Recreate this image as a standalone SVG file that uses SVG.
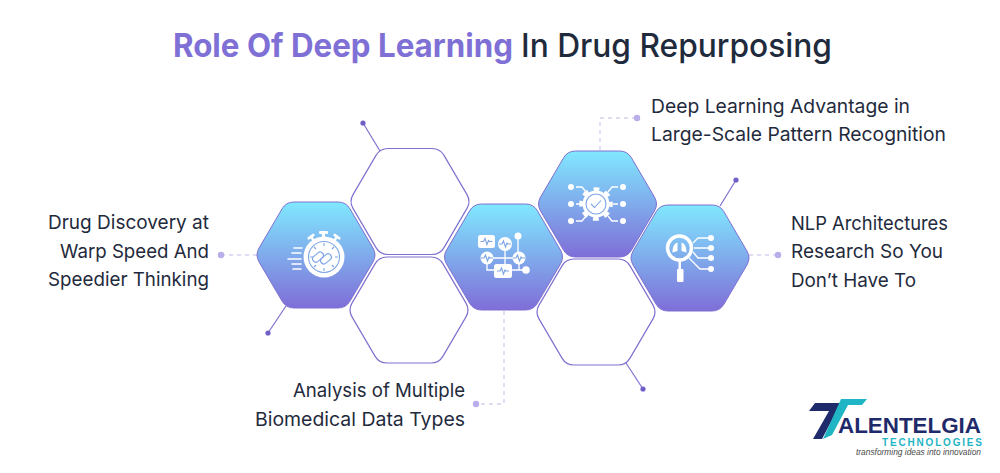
<svg xmlns="http://www.w3.org/2000/svg" width="1000" height="473" viewBox="0 0 1000 473">
<style>
text{font-family:"Inter","Noto Sans","Liberation Sans",sans-serif}
.t{font-size:32px;font-weight:500;fill:#1f2b3d}
.tb{font-size:32px;font-weight:700;fill:#7f70d6}
.l{font-size:19px;font-weight:400;fill:#1f2b3d}
.hf{fill:url(#g);stroke:#7f70d0;stroke-width:1}
.he{fill:#fff;stroke:#7f70d0;stroke-width:1.2}
.dash{fill:none;stroke:#d6d0f0;stroke-width:1.4;stroke-dasharray:4 4}
.sol{fill:none;stroke:#7f70d0;stroke-width:1.2}
.dl{fill:#b9aeea}
.dd{fill:#6f5fc8}
.w{fill:#fff}
.wl{fill:none;stroke:#fff;stroke-width:1.3}
.wt{fill:none;stroke:#fff;stroke-width:1.6;stroke-linecap:round}
.b{fill:none;stroke:#7ea6e6;stroke-width:1.1}
</style>
<defs>
<linearGradient id="g" x1="0" y1="0" x2="0" y2="1">
<stop offset="0" stop-color="#80e8ff"/>
<stop offset="1" stop-color="#7f6ed8"/>
</linearGradient>
<path id="hex" d="M-57-6.900L-34-46.100Q-30-53-22-53L22-53Q30-53 34-46.100L57-6.900Q61 0 57 6.900L34 46.100Q30 53 22 53L-22 53Q-30 53-34 46.100L-57 6.900Q-61 0-57-6.900Z"/>
<polyline id="wave" points="-6,0 -3,0 -1.500,-3 0.500,3 2,-1 3,0 6,0"/>
</defs>

<rect width="1000" height="473" fill="#fff"/>

<g id="title">
<text class="tb" x="173" y="57" textLength="340" lengthAdjust="spacingAndGlyphs">Role Of Deep Learning</text>
<text class="t" x="521" y="57" textLength="311" lengthAdjust="spacingAndGlyphs">In Drug Repurposing</text>
</g>

<g id="connectors">
<path class="dash" d="M257 255H221"/>
<path class="dash" d="M600 150V118H637"/>
<path class="dash" d="M749 255H778"/>
<path class="dash" d="M504 311V404H476"/>
<path class="sol" d="M380 151L363 123"/>
<path class="sol" d="M286 306L268 333"/>
<path class="sol" d="M720 206L736 180"/>
<path class="sol" d="M626 363L643 389"/>
<circle class="dl" cx="221" cy="255" r="3.200"/>
<circle class="dl" cx="637" cy="118" r="3.200"/>
<circle class="dl" cx="778" cy="255" r="3.200"/>
<circle class="dl" cx="476" cy="404" r="3.200"/>
<circle class="dd" cx="363" cy="123" r="2.600"/>
<circle class="dd" cx="268" cy="333" r="2.600"/>
<circle class="dd" cx="736" cy="180" r="2.600"/>
<circle class="dd" cx="643" cy="389" r="2.600"/>
</g>

<g id="hex-top-left"><use href="#hex" class="he" x="410" y="201.500"/></g>
<g id="hex-bottom-left"><use href="#hex" class="he" x="409" y="310"/></g>
<g id="hex-bottom-right"><use href="#hex" class="he" x="596" y="312"/></g>

<g id="node-stopwatch">
<use href="#hex" class="hf" x="316" y="255"/>
<circle class="w" cx="324" cy="257" r="20.500"/>
<circle class="b" cx="324" cy="257" r="15.500"/>
<path class="b" d="M324 243V246M324 268V271M310 257H313M335 257H338M314 247L316 249M334 247L332 249M314 267L316 265M334 267L332 265"/>
<g fill="none" stroke="#7ea6e6" stroke-width="1.200" transform="rotate(-40 322 258)">
<rect x="313.500" y="251.500" width="12" height="6.500" rx="3.250"/>
<rect x="318.500" y="258" width="12" height="6.500" rx="3.250"/>
</g>
<rect class="w" x="319" y="231" width="9" height="3" rx="1"/><rect class="w" x="322" y="233" width="3" height="5"/>
<g transform="rotate(-35 312 238)"><rect class="w" x="308" y="235" width="8" height="2.600" rx="1"/><rect class="w" x="310.800" y="236" width="2.400" height="5"/></g>
<g transform="rotate(35 336 238)"><rect class="w" x="332" y="235" width="8" height="2.600" rx="1"/><rect class="w" x="334.800" y="236" width="2.400" height="5"/></g>
<path class="wt" d="M294 248H302M292 253H301M288 259H301M292 264H301M293 269H301"/>
</g>

<g id="node-datatypes">
<use href="#hex" class="hf" x="503.500" y="257"/>
<path class="wl" d="M487 258H519M505 244V264M518 236V252M487 264V270H494M512 270H526M519 264V270"/>
<rect class="w" x="478" y="235" width="17" height="13" rx="2.500"/>
<rect class="w" x="494" y="264" width="18" height="14" rx="2.500"/>
<circle class="w" cx="505" cy="244" r="7"/>
<circle class="w" cx="518" cy="236" r="3.500"/>
<circle class="w" cx="487" cy="258" r="6.500"/>
<circle class="w" cx="519" cy="258" r="6.500"/>
<circle class="w" cx="526" cy="270" r="3.800"/>
<g class="b">
<use href="#wave" x="486.500" y="241.500"/>
<use href="#wave" x="505" y="244"/>
<use href="#wave" x="487" y="258"/>
<use href="#wave" x="519" y="258"/>
<use href="#wave" x="503" y="271"/>
</g>
</g>

<g id="node-gear">
<use href="#hex" class="hf" x="597.500" y="204"/>
<circle class="w" cx="596" cy="204" r="13.500"/>
<circle cx="596" cy="204" r="14.500" fill="none" stroke="#fff" stroke-width="4.500" stroke-dasharray="5.700 5.690" stroke-dashoffset="2.850"/>
<circle class="b" cx="596" cy="204" r="10"/>
<path class="b" d="M591 204L594.500 207.500L601 200.500"/>
<g class="w">
<circle cx="571" cy="187" r="3"/><circle cx="571" cy="204" r="3"/><circle cx="571" cy="221" r="3"/>
<circle cx="623" cy="187" r="3"/><circle cx="623" cy="204" r="3"/><circle cx="623" cy="221" r="3"/>
</g>
<path class="wl" d="M576 187H582L586 192M576 221H582L586 216M576 204H580M618 204H613M618 187H612L608 192M618 221H612L608 216" stroke-width="1.600"/>
</g>

<g id="node-nlp">
<use href="#hex" class="hf" x="690" y="258"/>
<circle cx="679.500" cy="248" r="12" fill="none" stroke="#fff" stroke-width="3.500"/>
<path class="w" d="M677.500 242.500C674 243 672.500 248 672.500 252.500L677.500 251ZM681.500 242.500C685 243 686.500 248 686.500 252.500L681.500 251Z"/>
<rect class="w" x="678.500" y="261" width="2.500" height="8"/>
<rect class="w" x="677" y="269" width="6.500" height="13" rx="1"/>
<g class="w">
<circle cx="711" cy="238" r="3"/><circle cx="711" cy="248" r="3"/><circle cx="711" cy="258" r="3"/><circle cx="711" cy="269" r="3"/>
</g>
<path class="wl" d="M711 238H698L693 243M711 248H694M711 258H698L693 252M711 269H700L689 258"/>
</g>

<g id="label-left">
<text class="l" x="209" y="229" text-anchor="end" textLength="161" lengthAdjust="spacingAndGlyphs">Drug Discovery at</text>
<text class="l" x="209" y="258" text-anchor="end" textLength="149" lengthAdjust="spacingAndGlyphs">Warp Speed And</text>
<text class="l" x="209" y="286" text-anchor="end" textLength="161" lengthAdjust="spacingAndGlyphs">Speedier Thinking</text>
</g>
<g id="label-top">
<text class="l" x="651" y="113" textLength="259" lengthAdjust="spacingAndGlyphs">Deep Learning Advantage in</text>
<text class="l" x="651" y="141" textLength="295" lengthAdjust="spacingAndGlyphs">Large-Scale Pattern Recognition</text>
</g>
<g id="label-right">
<text class="l" x="791" y="230" textLength="157" lengthAdjust="spacingAndGlyphs">NLP Architectures</text>
<text class="l" x="791" y="258" textLength="152" lengthAdjust="spacingAndGlyphs">Research So You</text>
<text class="l" x="791" y="287" textLength="125" lengthAdjust="spacingAndGlyphs">Don’t Have To</text>
</g>
<g id="label-bottom">
<text class="l" x="465" y="397" text-anchor="end" textLength="172" lengthAdjust="spacingAndGlyphs">Analysis of Multiple</text>
<text class="l" x="465" y="426" text-anchor="end" textLength="210" lengthAdjust="spacingAndGlyphs">Biomedical Data Types</text>
</g>

<g id="logo">
<path fill="#1f2a6b" d="M815 403H841L822 439H813L829 411H809Z"/>
<path fill="#1fb5c4" d="M841 399H867L862 405H848L832 435L823 439Z"/>
<text x="838" y="433" textLength="143" lengthAdjust="spacingAndGlyphs" style="font-family:'Liberation Sans',sans-serif;font-size:22px;font-weight:700;fill:#1f2a6b">ALENTELGIA</text>
<text x="882" y="445.500" textLength="100" lengthAdjust="spacing" style="font-family:'Liberation Sans',sans-serif;font-size:10px;font-weight:700;fill:#1fb5c4">TECHNOLOGIES</text>
<text x="856" y="455" textLength="125" lengthAdjust="spacingAndGlyphs" style="font-family:'Liberation Sans',sans-serif;font-size:8.500px;font-style:italic;fill:#4a4a4a">transforming ideas into innovation</text>
</g>
</svg>
